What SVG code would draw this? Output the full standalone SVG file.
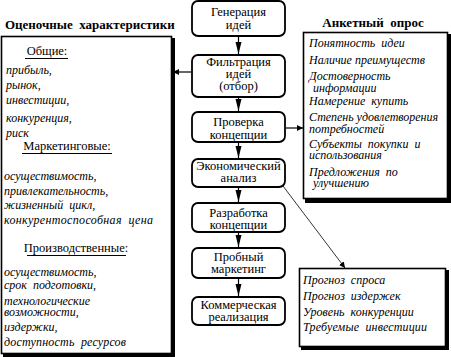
<svg xmlns="http://www.w3.org/2000/svg" width="451" height="357" viewBox="0 0 451 357">
<style>
.bg{fill:#fff}
.box{fill:#fff;stroke:#000;stroke-width:1.6}
.node{fill:#fff;stroke:#000;stroke-width:1.8}
.shadow{fill:#000}
text{font-family:'Liberation Serif','DejaVu Serif',serif;font-size:12.5px;fill:#000}
.c{text-anchor:middle}
.i{font-style:italic;font-size:12px}
.b{font-weight:bold;font-size:13px}
.ln{stroke:#000;stroke-width:1.2;fill:none}
.ul{stroke:#000;stroke-width:1}
</style>
<defs>
<marker id="ah" viewBox="0 0 10 10" refX="10" refY="5" markerWidth="6" markerHeight="6" orient="auto" markerUnits="userSpaceOnUse">
<path d="M0,0 L10,5 L0,10 Z" fill="#000"/>
</marker>
<marker id="ad" viewBox="0 0 10 10" refX="10" refY="5" markerWidth="12" markerHeight="12" orient="auto" markerUnits="userSpaceOnUse">
<path d="M0,2.5 L10,5 L0,7.5 Z" fill="#000"/>
</marker>
</defs>
<rect class="bg" x="0" y="0" width="451" height="357"/>

<g id="left-panel" font-family="Liberation Serif, DejaVu Serif, serif">
<text class="b" x="5" y="29" xml:space="preserve">Оценочные  характеристики</text>
<rect class="shadow" x="3" y="38" width="172" height="319"/>
<rect class="box" x="1.5" y="36.5" width="170" height="317"/>
<text class="c" x="47" y="55">Общие:</text>
<line class="ul" x1="25" y1="58.5" x2="68" y2="58.5"/>
<text class="i" x="6" y="74">прибыль,</text>
<text class="i" x="6" y="89">рынок,</text>
<text class="i" x="6" y="104">инвестиции,</text>
<text class="i" x="6" y="122">конкуренция,</text>
<text class="i" x="6" y="137">риск</text>
<text class="c" x="67" y="150">Маркетинговые:</text>
<line class="ul" x1="22" y1="153.5" x2="112" y2="153.5"/>
<text class="i" x="4" y="180">осуществимость,</text>
<text class="i" x="4" y="195">привлекательность,</text>
<text class="i" x="4" y="209" xml:space="preserve">жизненный  цикл,</text>
<text class="i" x="4" y="224" xml:space="preserve" textLength="149" lengthAdjust="spacing">конкурентоспособная  цена</text>
<text class="c" x="76" y="252">Производственные:</text>
<line class="ul" x1="27" y1="255.5" x2="126" y2="255.5"/>
<text class="i" x="4" y="276">осуществимость,</text>
<text class="i" x="4" y="289" xml:space="preserve">срок  подготовки,</text>
<text class="i" x="4" y="305">технологические</text>
<text class="i" x="4" y="316">возможности,</text>
<text class="i" x="4" y="331">издержки,</text>
<text class="i" x="4" y="346" xml:space="preserve" textLength="122" lengthAdjust="spacing">доступность  ресурсов</text>
</g>

<g id="right-panel">
<text class="b c" x="373" y="27" xml:space="preserve">Анкетный  опрос</text>
<rect class="shadow" x="305" y="34" width="146" height="169"/>
<rect class="box" x="303.5" y="32.5" width="144" height="166"/>
<text class="i" x="309" y="47" xml:space="preserve">Понятность  идеи</text>
<text class="i" x="309" y="64">Наличие преимуществ</text>
<text class="i" x="309" y="80">Достоверность</text>
<text class="i" x="313" y="92">информации</text>
<text class="i" x="309" y="105" xml:space="preserve">Намерение  купить</text>
<text class="i" x="309" y="121" textLength="129" lengthAdjust="spacing">Степень удовлетворения</text>
<text class="i" x="309" y="133">потребностей</text>
<text class="i" x="309" y="148" xml:space="preserve">Субъекты  покупки  и</text>
<text class="i" x="309" y="159">использования</text>
<text class="i" x="309" y="176" xml:space="preserve">Предложения  по</text>
<text class="i" x="313" y="187">улучшению</text>
</g>

<g id="econ-panel">
<rect class="shadow" x="301" y="270" width="148" height="80"/>
<rect class="box" x="299.5" y="268.5" width="146" height="78"/>
<text class="i" x="303" y="284" xml:space="preserve">Прогноз  спроса</text>
<text class="i" x="303" y="300" xml:space="preserve">Прогноз  издержек</text>
<text class="i" x="303" y="316" xml:space="preserve">Уровень  конкуренции</text>
<text class="i" x="303" y="331" xml:space="preserve" textLength="124" lengthAdjust="spacing">Требуемые  инвестиции</text>
</g>

<g id="n1"><rect class="node" x="192" y="1" width="93" height="35" rx="6"/>
<text class="c" x="238.5" y="16">Генерация</text><text class="c" x="238.5" y="29">идей</text></g>
<g id="n2"><rect class="node" x="192" y="55" width="93" height="42" rx="6"/>
<text class="c" x="238.5" y="66">Фильтрация</text><text class="c" x="238.5" y="78">идей</text><text class="c" x="238.5" y="90">(отбор)</text></g>
<g id="n3"><rect class="node" x="192" y="112" width="93" height="30" rx="6"/>
<text class="c" x="238.5" y="126">Проверка</text><text class="c" x="238.5" y="139">концепции</text></g>
<g id="n4"><rect class="node" x="192" y="159" width="93" height="28" rx="6"/>
<text class="c" x="238.5" y="170">Экономический</text><text class="c" x="238.5" y="182">анализ</text></g>
<g id="n5"><rect class="node" x="192" y="203" width="93" height="29" rx="6"/>
<text class="c" x="238.5" y="217">Разработка</text><text class="c" x="238.5" y="229">концепции</text></g>
<g id="n6"><rect class="node" x="192" y="248" width="93" height="30" rx="6"/>
<text class="c" x="238.5" y="261">Пробный</text><text class="c" x="238.5" y="273">маркетинг</text></g>
<g id="n7"><rect class="node" x="192" y="297" width="93" height="28" rx="6"/>
<text class="c" x="238.5" y="309">Коммерческая</text><text class="c" x="238.5" y="321">реализация</text></g>

<g id="connectors">
<line class="ln" x1="238.5" y1="37" x2="238.5" y2="54" marker-end="url(#ad)"/>
<line class="ln" x1="238.5" y1="98" x2="238.5" y2="111" marker-end="url(#ad)"/>
<line class="ln" x1="238.5" y1="143" x2="238.5" y2="158" marker-end="url(#ad)"/>
<line class="ln" x1="238.5" y1="188" x2="238.5" y2="202" marker-end="url(#ad)"/>
<line class="ln" x1="238.5" y1="233" x2="238.5" y2="247" marker-end="url(#ad)"/>
<line class="ln" x1="238.5" y1="279" x2="238.5" y2="296" marker-end="url(#ad)"/>
<line class="ln" x1="191" y1="72" x2="173" y2="72" marker-end="url(#ah)"/>
<line class="ln" x1="286" y1="128" x2="303" y2="128" marker-end="url(#ah)"/>
<line stroke="#000" stroke-width="0.8" x1="283" y1="186" x2="345" y2="268" marker-end="url(#ah)"/>
</g>
</svg>
